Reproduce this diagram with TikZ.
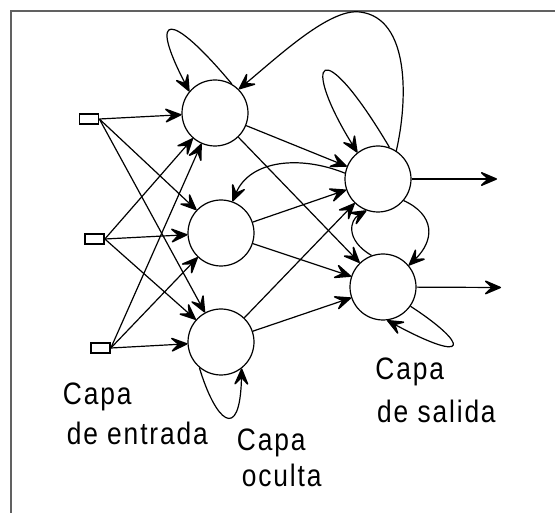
\documentclass[tikz,border=0pt]{standalone}
\usepackage{fontspec}
\usetikzlibrary{arrows.meta}
\newfontfamily\lab[FakeStretch=0.85,LetterSpace=6]{Liberation Sans}
\begin{document}
\begin{tikzpicture}[x=1pt,y=-1pt,
  neuron/.style={circle,draw,line width=1.2pt,minimum size=66pt,inner sep=0pt},
  inbox/.style={rectangle,draw,line width=1.7pt,minimum width=19pt,minimum height=10pt,inner sep=0pt},
  conn/.style={line width=1.2pt,-{Stealth[length=20pt,width=17pt,inset=9pt,line width=1.5pt,round]}},
  lbl/.style={anchor=base west,inner sep=0pt,font=\lab\fontsize{31}{36}\selectfont},
  frame/.style={draw=black!62,line width=2pt}]
\useasboundingbox (0,0) rectangle (555,513);
\draw[frame] (10.6,513) -- (10.6,11) -- (555,11);
% nodes
\node[neuron] (h1) at (215,113) {};
\node[neuron] (h2) at (221,233) {};
\node[neuron] (h3) at (221,342) {};
\node[neuron] (o1) at (378,179) {};
\node[neuron] (o2) at (383,287) {};
\node[inbox] (i1) at (89,119) {};
\node[inbox] (i2) at (94.5,239) {};
\node[inbox] (i3) at (100.5,348) {};
\coordinate (out1) at (497,179);
\coordinate (out2) at (501,287.5);
% input -> hidden
\foreach \i in {i1,i2,i3}{
  \foreach \h in {h1,h2,h3}{
    \draw[conn] (\i.east) -- (\h);
  }
}
% hidden -> output
\foreach \h in {h1,h2,h3}{
  \foreach \o in {o1,o2}{
    \draw[conn] (\h) -- (\o);
  }
}
% outputs
\draw[conn] (o1) -- (out1);
\draw[conn] (o2) -- (out2);
% recurrent connections
\draw[conn] (h1.60) .. controls (170,10) and (148,12) .. (h1.140);
\draw[conn] (o1.57) .. controls (408,100) and (410,18) .. (360,12)
            .. controls (330,8) and (280,55) .. (h1.45);
\draw[conn] (o1.70) .. controls (320,30) and (300,60) .. (o1.128);
\draw[conn] (o1.170) .. controls (300,155) and (250,160) .. (h2.70);
\draw[conn] (o1.-40) .. controls (435,215) and (435,240) .. (o2.40);
\draw[conn] (o2.110) .. controls (345,240) and (350,220) .. (o1.-110);
\draw[conn] (o2.-35) .. controls (470,345) and (470,365) .. (o2.-83);
\draw[conn] (h3.230) .. controls (215,420) and (240,445) .. (h3.-52);
% labels
\node[lbl] (l1) at (62.7,405) {Capa};
\node[lbl] (l2) at (66.7,445) {de entrada};
\node[lbl] (l3) at (236.7,450) {Capa};
\node[lbl] (l4) at (241.7,486.7) {oculta};
\node[lbl] (l5) at (375.2,380) {Capa};
\node[lbl] (l6) at (377,423) {de salida};
\end{tikzpicture}
\end{document}
